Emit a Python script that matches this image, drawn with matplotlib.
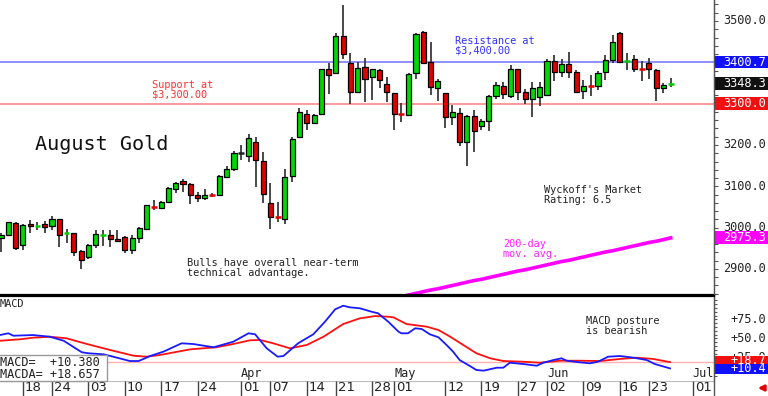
import matplotlib
matplotlib.use('Agg')
import matplotlib.pyplot as plt
import matplotlib.transforms as mtransforms
from matplotlib.patches import Rectangle
import numpy as np

W, H = 768, 396
MONO = 'DejaVu Sans Mono'
NARROW = ['Liberation Sans Narrow', 'DejaVu Sans']

# daily candles, trading days Feb 12 .. Jun 26 2025 (index 0..92)
opens = [2976, 2982, 3012, 2958, 3010, 3003, 3009, 3004, 3020, 2987,
         2986, 2944, 2929, 2958, 2982, 2982, 2973, 2978, 2946, 2975,
         2996, 3050, 3047, 3063, 3093, 3113, 3105, 3079, 3071, 3080,
         3079, 3123, 3143, 3180, 3173, 3207, 3162, 3060, 3026, 3022,
         3126, 3220, 3274, 3254, 3274, 3385, 3375, 3464, 3399, 3329,
         3389, 3364, 3381, 3347, 3326, 3275, 3272, 3373, 3473, 3400,
         3337, 3325, 3268, 3278, 3206, 3270, 3246, 3259, 3319, 3343,
         3319, 3384, 3327, 3311, 3317, 3321, 3404, 3377, 3396, 3376,
         3331, 3344, 3343, 3376, 3406, 3470, 3403, 3407, 3385, 3399,
         3381, 3337, 3347]
highs = [2986, 3014, 3014, 3009, 3018, 3013, 3016, 3028, 3022, 2996,
         2986, 2946, 2960, 2994, 2994, 2994, 2994, 2980, 2982, 3002,
         3055, 3068, 3064, 3099, 3111, 3117, 3107, 3086, 3094, 3085,
         3127, 3149, 3186, 3200, 3226, 3220, 3184, 3109, 3063, 3143,
         3220, 3289, 3285, 3276, 3385, 3399, 3470, 3539, 3422, 3401,
         3410, 3385, 3384, 3365, 3326, 3302, 3373, 3470, 3476, 3450,
         3360, 3325, 3297, 3289, 3272, 3285, 3262, 3321, 3353, 3353,
         3393, 3384, 3335, 3353, 3353, 3407, 3418, 3407, 3426, 3381,
         3357, 3369, 3380, 3418, 3466, 3474, 3422, 3418, 3404, 3411,
         3384, 3351, 3363]
lows = [2941, 2980, 2947, 2947, 2988, 2994, 2988, 2994, 2952, 2963,
        2931, 2899, 2925, 2950, 2955, 2954, 2966, 2939, 2936, 2963,
        2994, 3042, 3045, 3061, 3084, 3086, 3057, 3061, 3067, 3075,
        3076, 3122, 3138, 3163, 3159, 3099, 3059, 2996, 3014, 3010,
        3111, 3218, 3236, 3252, 3272, 3323, 3372, 3407, 3299, 3326,
        3303, 3309, 3337, 3305, 3236, 3256, 3271, 3360, 3395, 3321,
        3307, 3240, 3248, 3197, 3150, 3184, 3236, 3234, 3311, 3311,
        3313, 3309, 3299, 3268, 3294, 3318, 3355, 3365, 3361, 3326,
        3311, 3319, 3333, 3357, 3398, 3399, 3381, 3377, 3355, 3359,
        3307, 3325, 3341]
closes = [2982, 3013, 2950, 3006, 3004, 3004, 3002, 3022, 2981, 2988,
          2941, 2921, 2958, 2984, 2983, 2973, 2968, 2946, 2975, 2998,
          3054, 3049, 3063, 3097, 3108, 3105, 3080, 3071, 3078, 3079,
          3125, 3141, 3180, 3180, 3216, 3163, 3081, 3025, 3025, 3123,
          3214, 3280, 3254, 3272, 3384, 3369, 3464, 3419, 3329, 3387,
          3359, 3383, 3357, 3327, 3274, 3274, 3372, 3468, 3399, 3340,
          3356, 3268, 3280, 3208, 3270, 3234, 3259, 3319, 3345, 3323,
          3384, 3327, 3311, 3339, 3341, 3404, 3376, 3395, 3376, 3329,
          3343, 3343, 3375, 3406, 3450, 3400, 3404, 3385, 3384, 3383,
          3337, 3344, 3348.3]

# 200-day moving average (from index 55)
ma_start = 55
ma200 = [2833, 2837, 2841, 2845, 2849, 2852, 2856, 2860, 2864, 2868,
         2872, 2875, 2879, 2883, 2887, 2891, 2895, 2898, 2902, 2906,
         2910, 2914, 2918, 2921, 2925, 2929, 2933, 2937, 2941, 2944,
         2948, 2952, 2956, 2960, 2964, 2967, 2971, 2975.3]

# MACD (blue) and MACDA (red)
macd_x = [-0.1, 1.0, 1.7, 4.4, 6.7, 8.6, 11.1, 12.0, 14.1, 15.4, 17.7, 18.9,
          20.5, 22.3, 24.8, 26.4, 29.2, 31.9, 34.0, 34.9, 36.5, 38.0, 38.8,
          40.8, 42.9, 44.5, 45.9, 47.0, 47.9, 49.3, 50.9, 51.8, 53.2, 54.6,
          55.0, 55.9, 56.9, 57.8, 58.9, 60.1, 61.2, 62.1, 63.0, 64.4, 65.3,
          66.3, 68.1, 69.0, 69.9, 71.7, 73.6, 74.5, 75.9, 77.0, 77.7, 79.5,
          80.9, 82.0, 83.4, 85.0, 86.9, 88.7, 89.8, 91.9]
macd_v = [54.4, 56.6, 53.4, 54.3, 52.1, 46.8, 31.6, 30.3, 28.9, 25.8, 20.1,
          20.1, 26.7, 32.4, 43.4, 42.5, 38.2, 45.5, 56.6, 55.3, 36.8, 25.8,
          26.7, 43.4, 55.3, 71.8, 88.2, 92.9, 90.8, 89.5, 85.0, 82.9, 71.8,
          58.7, 56.6, 56.6, 63.2, 62.2, 55.3, 51.3, 41.2, 32.4, 21.4, 13.6,
          8.3, 7.4, 11.3, 11.3, 17.9, 16.2, 13.9, 17.9, 21.4, 23.7, 20.5,
          18.4, 17.1, 19.2, 25.8, 26.7, 24.5, 21.4, 16.2, 10.38]
sig_x = [-0.1, 2.6, 4.4, 6.7, 9.0, 11.8, 15.0, 18.2, 20.0, 21.8, 26.0, 29.6,
         31.9, 34.2, 35.6, 37.4, 39.7, 42.0, 44.3, 47.0, 49.3, 51.4, 53.2,
         53.9, 55.7, 58.5, 60.1, 61.7, 63.5, 65.3, 67.2, 69.0, 71.7, 74.0,
         76.8, 79.5, 82.3, 85.0, 87.3, 89.6, 91.9]
sig_v = [46.8, 48.7, 50.8, 52.1, 50.0, 42.5, 34.6, 27.1, 25.8, 28.0, 35.5,
         38.2, 42.5, 47.4, 47.8, 43.4, 36.8, 41.2, 52.1, 68.8, 76.3, 79.3,
         78.4, 77.6, 68.8, 65.3, 60.9, 52.1, 41.2, 30.3, 23.7, 20.1, 19.2,
         17.9, 20.5, 20.5, 20.1, 22.8, 24.5, 22.8, 18.657]

date_idx = [3, 7, 12, 17, 22, 27, 33, 37, 42, 46, 51, 54, 61, 66, 71, 75, 80, 85, 89, 95]
date_lab = ['18', '24', '03', '10', '17', '24', '01', '07', '14', '21', '28',
            '01', '12', '19', '27', '02', '09', '16', '23', '01']
month_idx = [33, 54, 75, 95]
month_lab = ['Apr', 'May', 'Jun', 'Jul']
price_ticks = [2900, 3000, 3100, 3200, 3300, 3400, 3500]
macd_ticks = [25, 50, 75]

support, resistance = 3300.0, 3400.7
last_price = closes[-1]

fig = plt.figure(figsize=(W / 100, H / 100), dpi=100)
fig.patch.set_facecolor('white')

def fx(x):
    return x / W

def fy(y):
    return 1 - y / H

xlim = (-0.14, 97.94)
ax = fig.add_axes([0, fy(295), fx(714), 295 / H])
ax2 = fig.add_axes([0, fy(381), fx(714), (381 - 296) / H])
ax3 = fig.add_axes([0, 0, fx(714), fy(381)])

# ---- price panel
ax.set_xlim(*xlim)
ax.set_ylim(2837, 3550.8)
ax.axhline(resistance, color='#8f8fff', lw=1.4, zorder=1)
ax.axhline(support, color='#ff8a8a', lw=1.2, zorder=1)

idx = np.arange(len(closes))
o = np.array(opens, float)
c = np.array(closes, float)
ax.vlines(idx, lows, highs, color='#3a3a3a', lw=1.3, zorder=2)
for i in idx:
    if abs(c[i] - o[i]) < 2:
        col = '#00d000' if c[i] > o[i] else ('#e00000' if c[i] < o[i] else '#202020')
        ax.hlines(c[i], i - 0.4, i + 0.4, color=col, lw=1.8, zorder=3)
    else:
        col = '#00d800' if c[i] > o[i] else '#e00000'
        ax.bar(i, abs(c[i] - o[i]), bottom=min(o[i], c[i]), width=0.7,
               color=col, edgecolor='black', lw=0.9, zorder=3)

ma_x = np.arange(ma_start, ma_start + len(ma200))
ax.plot(ma_x, ma200, color='#ff00ff', lw=2.6, zorder=2)

for s in ['top', 'left']:
    ax.spines[s].set_visible(False)
ax.spines['bottom'].set_color('black')
ax.spines['bottom'].set_linewidth(1.6)
ax.spines['right'].set_color('#555555')
ax.set_xticks([])
ax.yaxis.tick_right()
ax.set_yticks(np.arange(2840, 3560, 20), minor=False)
ax.tick_params(axis='y', direction='out', length=3, color='#555555', labelright=False)

trans = mtransforms.blended_transform_factory(fig.transFigure, ax.transData)
for p in price_ticks:
    ax.text(fx(766), p, f'{p:.1f}', transform=trans, ha='right', va='center',
            fontsize=8.6, family=MONO, color='#222222', clip_on=False)

def tag(axis, tr, val, txt, bg, h):
    axis.add_patch(Rectangle((fx(714), val - h / 2), fx(54), h, transform=tr,
                             facecolor=bg, edgecolor='none', clip_on=False, zorder=5))
    axis.text(fx(766), val, txt, transform=tr, ha='right', va='center', fontsize=8.6,
              family=MONO, color='white', clip_on=False, zorder=6)

tag(ax, trans, resistance, f'{resistance:.1f}', '#1010ff', 31)
tag(ax, trans, last_price, f'{last_price:.1f}', '#111111', 31)
tag(ax, trans, support, f'{support:.1f}', '#f01010', 31)
tag(ax, trans, ma200[-1], f'{ma200[-1]:.1f}', '#ff00ff', 31)

# ---- MACD panel
ax2.set_xlim(*xlim)
ax2.set_ylim(-6.2, 105.7)
ax2.axhline(sig_v[-1], color='#ffb0b0', lw=1.0, zorder=1)
ax2.plot(sig_x, sig_v, color='#ff1010', lw=1.3, zorder=3)
ax2.plot(macd_x, macd_v, color='#1a1aff', lw=1.3, zorder=3)
for s in ['top', 'left', 'bottom']:
    ax2.spines[s].set_visible(False)
ax2.spines['right'].set_color('#555555')
ax2.set_xticks([])
ax2.yaxis.tick_right()
ax2.set_yticks(np.arange(0, 105, 5))
ax2.tick_params(axis='y', direction='out', length=2.5, color='#555555', labelright=False)

trans2 = mtransforms.blended_transform_factory(fig.transFigure, ax2.transData)
for m in macd_ticks:
    ax2.text(fx(766), m, f'+{m:.1f}', transform=trans2, ha='right', va='center',
             fontsize=8.6, family=MONO, color='#222222', clip_on=False)
tag(ax2, trans2, 21.1, f'+{sig_v[-1]:.1f}', '#f01010', 10)
tag(ax2, trans2, 9.6, f'+{macd_v[-1]:.1f}', '#1010ff', 13)

for mi, ml in zip(month_idx, month_lab):
    ax2.text(mi, -5.0, ml, ha='left', va='bottom', fontsize=8.6, family=MONO, color='#222222')

# ---- date strip
ax3.set_xlim(*xlim)
ax3.set_ylim(0, 1)
ax3.axis('off')
ax3.axhline(1, color='#bbbbbb', lw=0.8)
for di, dl in zip(date_idx, date_lab):
    ax3.vlines(di, 0, 1, color='#444444', lw=1.0)
    ax3.text(di + 0.3, 0.12, dl, ha='left', va='bottom', fontsize=9.5,
             family=NARROW, color='#222222')

# ---- annotations
fig.text(fx(35), fy(144), 'August Gold', fontsize=14.5, family=MONO, va='center', color='#111111')
fig.text(fx(152), fy(80), 'Support at\n$3,300.00', fontsize=7.4, family=MONO, va='top',
         color='#ff3030', linespacing=0.95)
fig.text(fx(455), fy(36), 'Resistance at\n$3,400.00', fontsize=7.4, family=MONO, va='top',
         color='#3030ff', linespacing=0.95)
fig.text(fx(187), fy(258), 'Bulls have overall near-term\ntechnical advantage.', fontsize=7.4,
         family=MONO, va='top', color='#222222', linespacing=0.95)
fig.text(fx(544), fy(185), "Wyckoff's Market\nRating: 6.5", fontsize=7.4, family=MONO,
         va='top', color='#222222', linespacing=0.95)
fig.text(fx(503), fy(239), '200-day\nmov. avg.', fontsize=7.4, family=MONO, va='top',
         color='#ff20ff', linespacing=0.95)
fig.text(fx(586), fy(316), 'MACD posture\nis bearish', fontsize=7.4, family=MONO, va='top',
         color='#222222', linespacing=0.95)
fig.text(fx(0), fy(299), 'MACD', fontsize=7.4, family=MONO, va='top', color='#222222')

# legend box in MACD panel
fig.patches.append(Rectangle((fx(-2), fy(381)), fx(109), 26 / H, transform=fig.transFigure,
                             facecolor='white', edgecolor='#999999', lw=1.0, zorder=8))
fig.text(fx(0), fy(362), f'MACD=  +{macd_v[-1]:.3f}', fontsize=8.6, family=MONO,
         va='center', color='#222222', zorder=9)
fig.text(fx(0), fy(374), f'MACDA= +{sig_v[-1]:.3f}', fontsize=8.6, family=MONO,
         va='center', color='#222222', zorder=9)

fig.add_artist(plt.Line2D([fx(714), fx(714)], [0, 1], color='#555555', lw=1.0,
                          transform=fig.transFigure))
fig.add_artist(plt.Line2D([0, fx(714)], [fy(295.5), fy(295.5)], color='black', lw=1.6,
                          transform=fig.transFigure))

plt.annotate('', xy=(755, 8), xytext=(767, 8), xycoords='figure pixels',
             textcoords='figure pixels',
             arrowprops=dict(arrowstyle='-|>', color='#e00000', lw=2, mutation_scale=8))

fig.savefig('out.png', dpi=100)
